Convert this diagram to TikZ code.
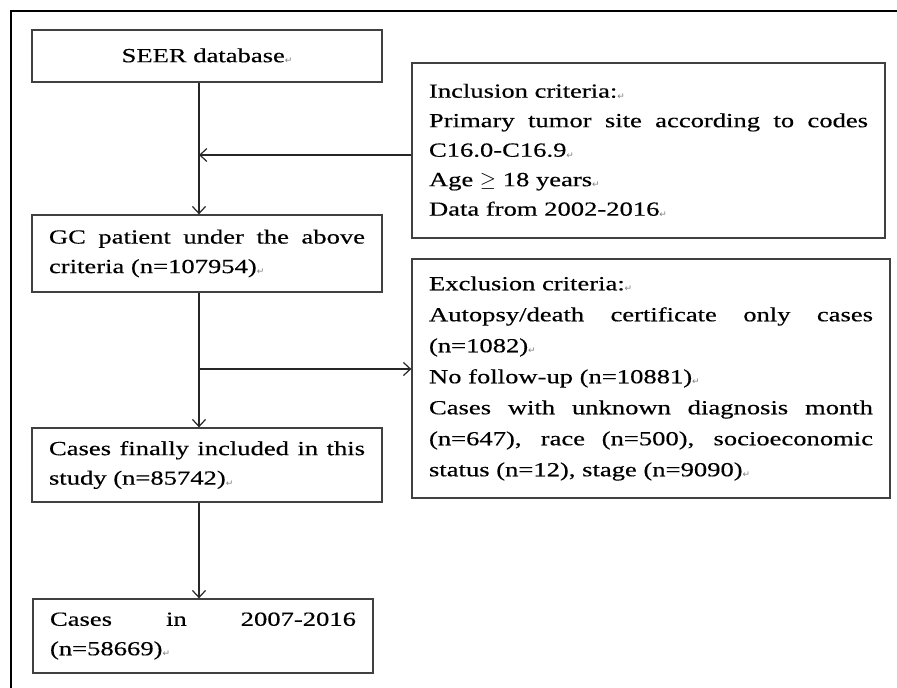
\documentclass[tikz,border=0pt]{standalone}
\usepackage{fontspec}
\setmainfont{Liberation Serif}[FakeStretch=1.33, FakeBold=0.4]
\newfontfamily\markfont{DejaVu Sans}
\usepackage{xcolor}
\usetikzlibrary{arrows.meta}

\newcommand{\pmark}{{\markfont\fontsize{9}{9}\selectfont\color{gray}\raisebox{-1.5pt}{↵}}}
\newcommand{\flowsetup}{\hyphenpenalty=10000 \exhyphenpenalty=10000 \tolerance=9999 \emergencystretch=4em\relax}

\begin{document}
\begin{tikzpicture}[x=1pt, y=-1pt,
        flowbox/.style={draw=black!75, line width=1.3pt, rectangle, align=justify,
            text width=#1, inner xsep=17pt, inner ysep=0pt,
            font=\fontsize{20}{29.5}\selectfont\flowsetup},
        flowline/.style={-{Straight Barb[length=7pt, width=13pt]}, line width=1.2pt, draw=black!85}
    ]
        \useasboundingbox (0,0) rectangle (897,688);

        % frame of the figure
        \draw [line width=1.4pt] (897,11) -- (11,11) -- (11,688);

        % main column
        \node [flowbox=316pt, align=center, minimum width=350pt, minimum height=52pt] (seer) at (207,56) {SEER database\pmark};
        \node [flowbox=316pt, minimum width=350pt, minimum height=77pt] (gc) at (207,253.5)
            {GC patient under the above criteria (n=107954)\pmark};
        \node [flowbox=316pt, minimum width=350pt, minimum height=74pt] (cases) at (207,465)
            {Cases finally included in this study (n=85742)\pmark};
        \node [flowbox=306pt, minimum width=340pt, minimum height=74pt] (last) at (203,636)
            {Cases in 2007-2016 (n=58669)\pmark};

        % criteria
        \node [flowbox=439pt, minimum width=473pt, minimum height=175pt] (incl) at (648.5,150.5)
            {Inclusion criteria:\pmark\par
             Primary tumor site according to codes C16.0-C16.9\pmark\par
             Age $\geq$ 18 years\pmark\par
             Data from 2002-2016\pmark};
        \node [flowbox=444pt, minimum width=478pt, minimum height=239pt,
               font=\fontsize{20}{31}\selectfont\flowsetup] (excl) at (651,378.5)
            {Exclusion criteria:\pmark\par
             Autopsy/death certificate only cases (n=1082)\pmark\par
             No follow-up (n=10881)\pmark\par
             Cases with unknown diagnosis month (n=647), race (n=500), socioeconomic status (n=12), stage (n=9090)\pmark};

        % connectors
        \coordinate (spine) at (199,0);
        \coordinate (injoin) at (199,155);
        \coordinate (outjoin) at (199,369);
        \draw [flowline] (seer.south -| spine) -- (gc.north -| spine);
        \draw [flowline] (incl.west |- injoin) -- (injoin);
        \draw [flowline] (gc.south -| spine) -- (cases.north -| spine);
        \draw [flowline] (outjoin) -- (excl.west |- outjoin);
        \draw [flowline] (cases.south -| spine) -- (last.north -| spine);
    \end{tikzpicture}
\end{document}
